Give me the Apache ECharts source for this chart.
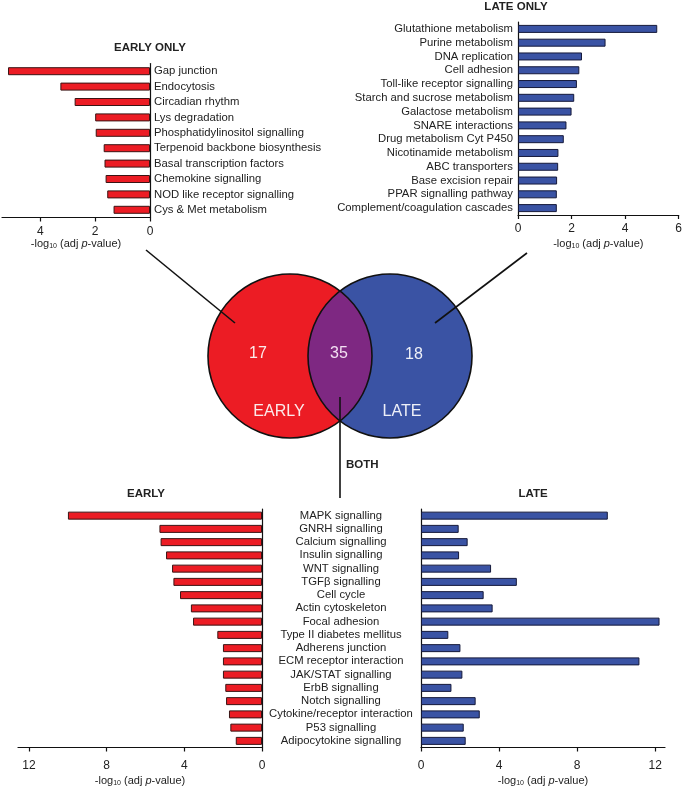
<!DOCTYPE html>
<html>
<head>
<meta charset="utf-8">
<script src="https://cdn.jsdelivr.net/npm/echarts@6/dist/echarts.min.js"></script>
<style>html,body{margin:0;padding:0;background:#fff;}#c{width:685px;height:789px;}</style>
</head>
<body>
<div id="c"></div>
<script>
// ---- data ----
const earlyOnlyCats = ['Gap junction','Endocytosis','Circadian rhythm','Lys degradation','Phosphatidylinositol signalling','Terpenoid backbone biosynthesis','Basal transcription factors','Chemokine signalling','NOD like receptor signalling','Cys & Met metabolism'];
const earlyOnlyVals = [5.18, 3.27, 2.75, 2.0, 1.98, 1.69, 1.66, 1.62, 1.56, 1.33];

const lateOnlyCats = ['Glutathione metabolism','Purine metabolism','DNA replication','Cell adhesion','Toll-like receptor signalling','Starch and sucrose metabolism','Galactose metabolism','SNARE interactions','Drug metabolism Cyt P450','Nicotinamide metabolism','ABC transporters','Base excision repair','PPAR signalling pathway','Complement/coagulation cascades'];
const lateOnlyVals = [5.2, 3.27, 2.39, 2.29, 2.2, 2.1, 2.0, 1.81, 1.71, 1.51, 1.5, 1.46, 1.45, 1.45];

const bothCats = ['MAPK signalling','GNRH signalling','Calcium signalling','Insulin signalling','WNT signalling','TGF\u03b2 signalling','Cell cycle','Actin cytoskeleton','Focal adhesion','Type II diabetes mellitus','Adherens junction','ECM receptor interaction','JAK/STAT signalling','ErbB signalling','Notch signalling','Cytokine/receptor interaction','P53 signalling','Adipocytokine signalling'];
const bothEarlyVals = [9.99, 5.28, 5.22, 4.94, 4.63, 4.56, 4.22, 3.66, 3.55, 2.30, 2.01, 2.01, 2.01, 1.89, 1.85, 1.70, 1.63, 1.35];
const bothLateVals = [9.57, 1.93, 2.39, 1.95, 3.59, 4.91, 3.21, 3.67, 12.22, 1.40, 2.02, 11.19, 2.12, 1.56, 2.80, 3.01, 2.19, 2.29];

const smallTicks = [0, 2, 4];
const smallTicksLate = [0, 2, 4, 6];
const bigTicks = [0, 4, 8, 12];

const vennCounts = [17, 35, 18];
const vennLabels = ['EARLY', 'LATE'];
const panelTitles = ['EARLY ONLY', 'LATE ONLY', 'EARLY', 'LATE', 'BOTH'];

// ---- styling ----
const FONT = "'Liberation Sans', Arial, sans-serif";
const RED = '#EC1C24', BLUE = '#3A53A4', PURPLE = '#7E2882';
const axisName = '-log{s|10} (adj {i|p}-value)';
const nameStyle = {
  fontSize: 11, color: '#222', fontFamily: FONT,
  rich: {
    s: { fontSize: 7, fontFamily: FONT, color: '#222', verticalAlign: 'bottom', padding: [5, 0, 0, 0] },
    i: { fontSize: 11, fontFamily: FONT, color: '#222', fontStyle: 'italic' }
  }
};

function xAx(gi, max, ticks, inverse, gap, margin) {
  return {
    type: 'value', gridIndex: gi, min: 0, max: max, inverse: inverse,
    axisLine: { show: true, lineStyle: { color: '#111', width: 1.2 } },
    axisTick: { show: true, length: 4, customValues: ticks, lineStyle: { color: '#111', width: 1.2 } },
    axisLabel: { customValues: ticks, fontSize: 12, color: '#222', fontFamily: FONT, margin: margin },
    splitLine: { show: false },
    name: axisName, nameLocation: 'middle', nameGap: gap, nameTextStyle: nameStyle
  };
}
function yAx(gi, cats, pos, labelCfg) {
  return {
    type: 'category', gridIndex: gi, data: cats, inverse: true, position: pos,
    axisLine: { show: true, lineStyle: { color: '#111', width: 1.2 } },
    axisTick: { show: false },
    axisLabel: Object.assign({ interval: 0, fontSize: 11.3, color: '#222', fontFamily: FONT }, labelCfg)
  };
}
function bar(gi, vals, color, border) {
  return {
    type: 'bar', xAxisIndex: gi, yAxisIndex: gi, data: vals, barWidth: 8,
    itemStyle: { color: color, borderColor: border, borderWidth: 1 },
    silent: true
  };
}

// Venn geometry (two equal circles)
const V = { cxL: 290, cxR: 390, cy: 356, r: 82 };
function lensPoints() {
  const d = (V.cxR - V.cxL) / 2;
  const th = Math.acos(d / V.r);
  const pts = [];
  const n = 60;
  for (let i = 0; i <= n; i++) {
    const a = -th + 2 * th * i / n;
    pts.push([V.cxL + V.r * Math.cos(a), V.cy + V.r * Math.sin(a)]);
  }
  for (let i = 0; i <= n; i++) {
    const a = Math.PI - th + 2 * th * i / n;
    pts.push([V.cxR + V.r * Math.cos(a), V.cy + V.r * Math.sin(a)]);
  }
  return pts;
}

const tStyle = { fontSize: 11.5, fontWeight: 'bold', color: '#222', fontFamily: FONT };
const option = {
  animation: false,
  backgroundColor: '#fff',
  title: [
    { text: panelTitles[0], left: 150, top: 42, padding: 0, textAlign: 'center', textStyle: tStyle },
    { text: panelTitles[1], left: 516, top: 1, padding: 0, textAlign: 'center', textStyle: tStyle },
    { text: panelTitles[2], left: 146, top: 488, padding: 0, textAlign: 'center', textStyle: tStyle },
    { text: panelTitles[3], left: 533, top: 488, padding: 0, textAlign: 'center', textStyle: tStyle },
    { text: panelTitles[4], left: 346, top: 459, padding: 0, textStyle: tStyle }
  ],
  grid: [
    { left: 2, top: 63.5, width: 148, height: 154 },
    { left: 518, top: 22, width: 162, height: 193 },
    { left: 18, top: 509, width: 244, height: 238.5 },
    { left: 421, top: 509, width: 244, height: 238.5 }
  ],
  xAxis: [
    xAx(0, 5.4, smallTicks, true, 20, 8),
    xAx(1, 6, smallTicksLate, false, 23, 8),
    xAx(2, 12.56, bigTicks, true, 27, 12),
    xAx(3, 12.5, bigTicks, false, 27, 12)
  ],
  yAxis: [
    yAx(0, earlyOnlyCats, 'right', { margin: 4, align: 'left' }),
    yAx(1, lateOnlyCats, 'left', { margin: 5, align: 'right' }),
    yAx(2, bothCats, 'right', { show: false }),
    yAx(3, bothCats, 'left', { margin: 80, align: 'center' })
  ],
  series: [
    bar(0, earlyOnlyVals, RED, '#3a1414'),
    bar(1, lateOnlyVals, BLUE, '#15193a'),
    bar(2, bothEarlyVals, RED, '#3a1414'),
    bar(3, bothLateVals, BLUE, '#15193a')
  ],
  graphic: [
    { type: 'circle', shape: { cx: V.cxL, cy: V.cy, r: V.r }, style: { fill: RED }, z: 0 },
    { type: 'circle', shape: { cx: V.cxR, cy: V.cy, r: V.r }, style: { fill: BLUE }, z: 1 },
    { type: 'polygon', shape: { points: lensPoints() }, style: { fill: PURPLE }, z: 2 },
    { type: 'circle', shape: { cx: V.cxL, cy: V.cy, r: V.r }, style: { fill: 'none', stroke: '#111', lineWidth: 1.6 }, z: 3 },
    { type: 'circle', shape: { cx: V.cxR, cy: V.cy, r: V.r }, style: { fill: 'none', stroke: '#111', lineWidth: 1.6 }, z: 3 },
    { type: 'line', shape: { x1: 146, y1: 250, x2: 235, y2: 323 }, style: { stroke: '#111', lineWidth: 1.6 }, z: 4 },
    { type: 'line', shape: { x1: 527, y1: 253, x2: 435, y2: 323 }, style: { stroke: '#111', lineWidth: 1.6 }, z: 4 },
    { type: 'line', shape: { x1: 340, y1: 397, x2: 340, y2: 498 }, style: { stroke: '#111', lineWidth: 1.6 }, z: 4 },
    { type: 'text', x: 258, y: 354, style: { text: String(vennCounts[0]), fill: '#fbeaea', font: '16px ' + FONT, textAlign: 'center', textVerticalAlign: 'middle' }, z: 5 },
    { type: 'text', x: 339, y: 354, style: { text: String(vennCounts[1]), fill: '#f3e0f3', font: '16px ' + FONT, textAlign: 'center', textVerticalAlign: 'middle' }, z: 5 },
    { type: 'text', x: 414, y: 355, style: { text: String(vennCounts[2]), fill: '#eef0f8', font: '16px ' + FONT, textAlign: 'center', textVerticalAlign: 'middle' }, z: 5 },
    { type: 'text', x: 279, y: 412, style: { text: vennLabels[0], fill: '#fbeaea', font: '16px ' + FONT, textAlign: 'center', textVerticalAlign: 'middle' }, z: 5 },
    { type: 'text', x: 402, y: 412, style: { text: vennLabels[1], fill: '#eef0f8', font: '16px ' + FONT, textAlign: 'center', textVerticalAlign: 'middle' }, z: 5 }
  ]
};

const chart = echarts.init(document.getElementById('c'), null, { renderer: 'canvas' });
chart.setOption(option);
</script>
</body>
</html>
